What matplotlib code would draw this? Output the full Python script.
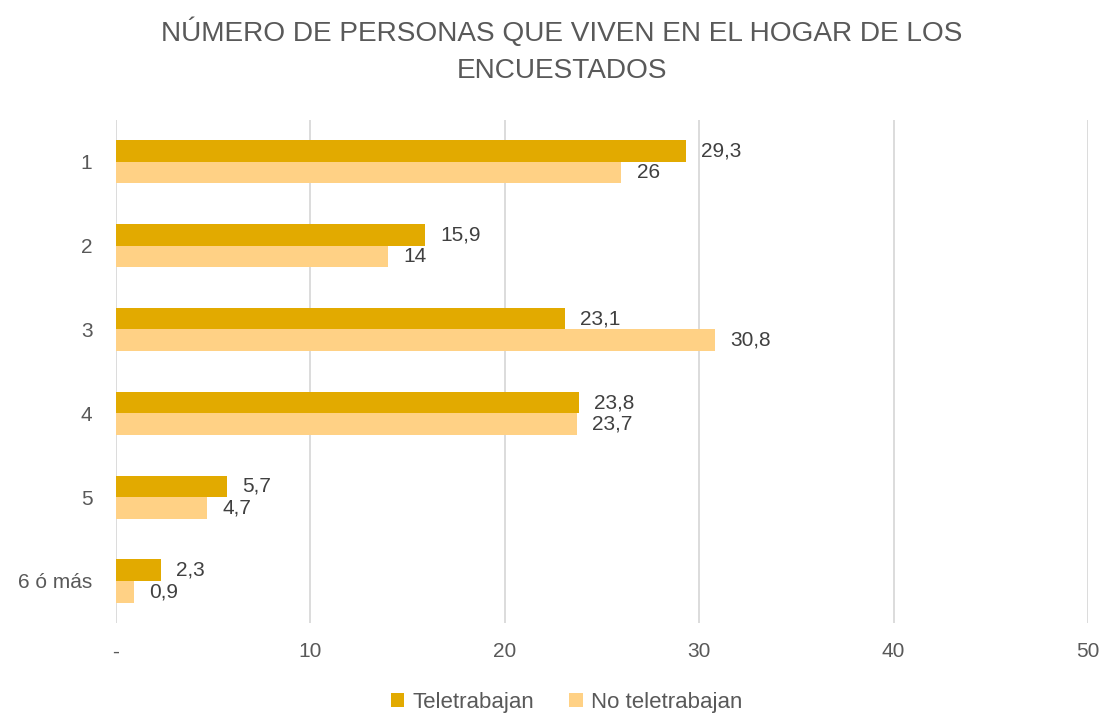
import matplotlib.pyplot as plt
import numpy as np

plt.rcParams['font.family'] = ['Liberation Sans', 'DejaVu Sans']

categories = ['1', '2', '3', '4', '5', '6 ó más']
teletrabajan = [29.3, 15.9, 23.1, 23.8, 5.7, 2.3]
no_teletrabajan = [26, 14, 30.8, 23.7, 4.7, 0.9]
tick_labels = ['-', '10', '20', '30', '40', '50']

dark = '#E2AA00'
light = '#FFD185'
grey = '#595959'

fig = plt.figure(figsize=(11.02, 7.16), dpi=100)
ax = fig.add_axes([0.1053, 0.130, 0.882, 0.7026])

y = np.arange(len(categories))
h = 0.257
ax.barh(y - h / 2, teletrabajan, height=h, color=dark, label='Teletrabajan', zorder=3)
ax.barh(y + h / 2, no_teletrabajan, height=h, color=light, label='No teletrabajan', zorder=3)

def fmt(v):
    s = f'{v:g}'
    return s.replace('.', ',')

for yi, v in zip(y, teletrabajan):
    ax.annotate(fmt(v), (v, yi - h / 2), xytext=(11, 0), textcoords='offset points',
                va='center', ha='left', fontsize=15, color='#404040')
for yi, v in zip(y, no_teletrabajan):
    ax.annotate(fmt(v), (v, yi + h / 2), xytext=(11, 0), textcoords='offset points',
                va='center', ha='left', fontsize=15, color='#404040')

ax.set_xlim(0, 50)
ax.set_ylim(len(categories) - 0.5, -0.5)
ax.set_xticks(np.arange(0, 51, 10))
ax.set_xticklabels(tick_labels)
ax.set_yticks(y)
ax.set_yticklabels(categories)
ax.tick_params(axis='both', length=0, labelsize=15, labelcolor=grey)
ax.tick_params(axis='x', pad=14)
ax.tick_params(axis='y', pad=17)
ax.grid(axis='x', color='#D9D9D9', linewidth=1.3, zorder=0)
for s in ax.spines.values():
    s.set_visible(False)

fig.text(0.51, 0.976, 'NÚMERO DE PERSONAS QUE VIVEN EN EL HOGAR DE LOS\nENCUESTADOS',
         ha='center', va='top', fontsize=20.2, color=grey, linespacing=1.55)

fig.legend(loc='center', bbox_to_anchor=(0.514, 0.019), ncol=2, frameon=False,
           prop={'size': 16}, labelcolor=grey, handlelength=0.6, handleheight=0.6,
           handletextpad=0.35, columnspacing=1.6, borderpad=0.1)

fig.savefig('out.png', dpi=100)
